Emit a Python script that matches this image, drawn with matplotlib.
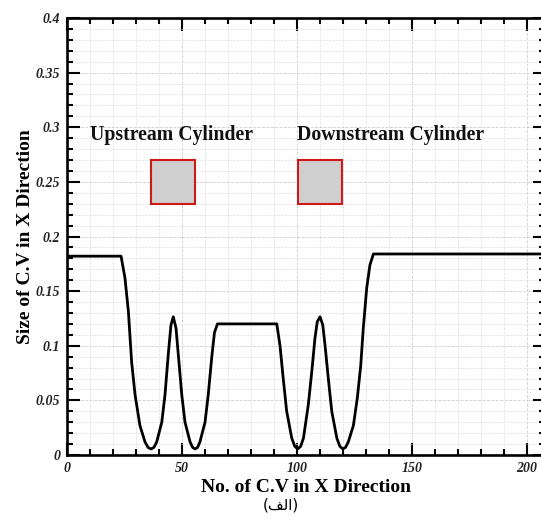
import matplotlib.pyplot as plt
from matplotlib.patches import Rectangle
from matplotlib.ticker import MultipleLocator

# values
cv_index = [0, 23.5, 25.2, 26.7, 28.1, 29.6, 31.7, 33.9, 35.2, 36.5, 37.8, 39.0,
            41.2, 42.6, 44.0, 45.2, 46.2, 47.4, 48.4, 49.9, 51.3, 53.5, 54.6,
            55.7, 56.8, 57.8, 60.0, 61.4, 62.9, 64.1, 65.4, 91.2, 92.6, 94.0,
            95.5, 97.7, 99.0, 100.3, 101.6, 102.8, 104.9, 106.4, 107.8, 108.8,
            110.0, 111.2, 112.2, 113.6, 115.1, 117.3, 118.6, 119.9, 121.1, 122.3,
            124.5, 126.2, 127.7, 128.8, 130.3, 131.7, 133.2, 210]
cv_size = [0.182, 0.182, 0.162, 0.131, 0.085, 0.055, 0.027, 0.012, 0.007, 0.0055,
           0.007, 0.012, 0.030, 0.055, 0.0915, 0.119, 0.1265, 0.116, 0.0915, 0.055,
           0.030, 0.012, 0.007, 0.0055, 0.007, 0.012, 0.030, 0.055, 0.089, 0.112,
           0.120, 0.120, 0.100, 0.070, 0.040, 0.0155, 0.008, 0.0055, 0.008, 0.0155,
           0.046, 0.076, 0.107, 0.122, 0.1265, 0.119, 0.100, 0.070, 0.040, 0.0155,
           0.008, 0.0055, 0.007, 0.012, 0.027, 0.052, 0.082, 0.116, 0.153, 0.174,
           0.184, 0.184]

cylinder_names = ["Upstream Cylinder", "Downstream Cylinder"]
cylinder_x = [36.5, 100.3]
cylinder_w = 19.3
cylinder_y = [0.23, 0.27]
label_x = [10, 100]
label_y = 0.293

W, H = 541, 521
fig = plt.figure(figsize=(W / 100, H / 100), dpi=100)
ax = fig.add_axes([67 / W, 66 / H, 478 / W, 437 / H])

ax.plot(cv_index, cv_size, color="black", lw=2.0, zorder=3)

for name, x0, tx in zip(cylinder_names, cylinder_x, label_x):
    ax.add_patch(Rectangle((x0, cylinder_y[0]), cylinder_w, cylinder_y[1] - cylinder_y[0],
                           facecolor="#cfcfcf", edgecolor="#d01818", lw=1.5, zorder=4))
    ax.text(tx, label_y, name, family="Liberation Serif", weight="bold",
            fontsize=14.2, va="center", ha="left", color="#111111")

ax.set_xlim(0, 207.8)
ax.set_ylim(0, 0.4)
ax.xaxis.set_major_locator(MultipleLocator(50))
ax.xaxis.set_minor_locator(MultipleLocator(10))
ax.yaxis.set_minor_locator(MultipleLocator(0.01))
ax.set_yticks([0, 0.05, 0.1, 0.15, 0.2, 0.25, 0.3, 0.35, 0.4])
ax.set_yticklabels(["0", "0.05", "0.1", "0.15", "0.2", "0.25", "0.3", "0.35", "0.4"])

ax.grid(which="major", color="#cfcfcf", ls="--", lw=0.6)
ax.grid(which="minor", color="#dedede", ls="--", lw=0.5)
ax.set_axisbelow(True)

ax.tick_params(which="both", direction="in", top=True, right=True, width=1.5)
ax.tick_params(which="major", length=9, pad=5)
ax.tick_params(which="minor", length=4)
for lab in ax.get_xticklabels() + ax.get_yticklabels():
    lab.set_family("Liberation Serif")
    lab.set_weight("bold")
    lab.set_style("italic")
    lab.set_fontsize(10)
    lab.set_color("#222222")

for side in ["left", "bottom", "top", "right"]:
    ax.spines[side].set_linewidth(1.9)

ax.set_xlabel("No. of C.V in X Direction", family="Liberation Serif",
              weight="bold", fontsize=14, labelpad=3)
ax.set_ylabel("Size of C.V in X Direction", family="Liberation Serif",
              weight="bold", fontsize=14, labelpad=1)

# caption "(الف)" written in visual order with presentation forms
fig.text(281 / W, 1 - 505 / H, "(\uFED2\uFEDF\uFE8D)", family="DejaVu Sans",
         fontsize=11, ha="center", va="center")

fig.savefig("out.png", dpi=100)
